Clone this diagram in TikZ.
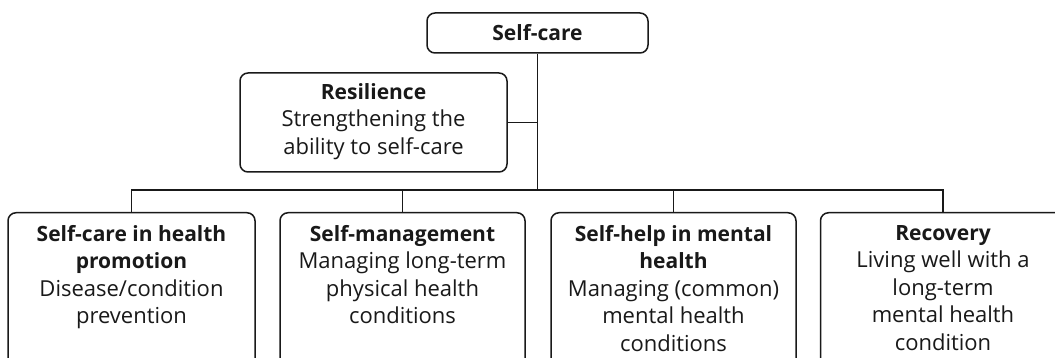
\documentclass[tikz,border=0pt]{standalone}
\usepackage{fontspec}
\setmainfont{Open Sans}
\newcommand{\bt}[1]{{\fontsize{21}{27.5}\selectfont\bfseries #1}}
\begin{document}
\begin{tikzpicture}[x=1pt,y=-1pt,
  box/.style={draw=black!90,line width=1.5pt,rounded corners=8pt,inner sep=0pt},
  txt/.style={align=center,inner sep=0pt,font=\fontsize{22}{27.5}\selectfont,text=black!90},
  conn/.style={draw=black!90,line width=1.5pt}]
\clip (0,0) rectangle (1055,358);
\fill[white] (0,0) rectangle (1055,358);
% top
\node[box,minimum width=221pt,minimum height=40pt] (top) at (537.5,33) {};
\node[txt,anchor=center] (toptxt) at (top.center) {\bt{Self-care}};
% resilience
\node[box,minimum width=267pt,minimum height=99pt] (res) at (373.5,122.5) {};
\node[txt,anchor=north] (restxt) at ([yshift=-11pt]res.north) {\bt{Resilience}\\Strengthening the\\ability to self-care};
% bottom boxes
\node[box,minimum width=247pt,minimum height=170pt,anchor=north] (b1) at (131.5,212) {};
\node[box,minimum width=245pt,minimum height=170pt,anchor=north] (b2) at (402.5,212) {};
\node[box,minimum width=245pt,minimum height=170pt,anchor=north] (b3) at (673.5,212) {};
\node[box,minimum width=245pt,minimum height=170pt,anchor=north] (b4) at (943,212) {};
\node[txt,anchor=north] (t1) at ([yshift=-13pt]b1.north) {\bt{Self-care in health}\\\bt{promotion}\\Disease/condition\\prevention};
\node[txt,anchor=north] (t2) at ([yshift=-13pt]b2.north) {\bt{Self-management}\\Managing long-term\\physical health\\conditions};
\node[txt,anchor=north] (t3) at ([yshift=-13pt]b3.north) {\bt{Self-help in mental}\\\bt{health}\\Managing (common)\\mental health\\conditions};
\node[txt,anchor=north] (t4) at ([yshift=-13pt]b4.north) {\bt{Recovery}\\Living well with a\\long-term\\mental health\\condition};
% connectors
\coordinate (bus) at (537.5,190);
\draw[conn] (top.south) -- (bus);
\draw[conn] (res.east) -- (res.east -| bus);
\draw[conn] (b1.north) -- (b1.north |- bus) -- (b4.north |- bus) -- (b4.north);
\draw[conn] (b2.north) -- (b2.north |- bus);
\draw[conn] (b3.north) -- (b3.north |- bus);
\end{tikzpicture}
\end{document}
